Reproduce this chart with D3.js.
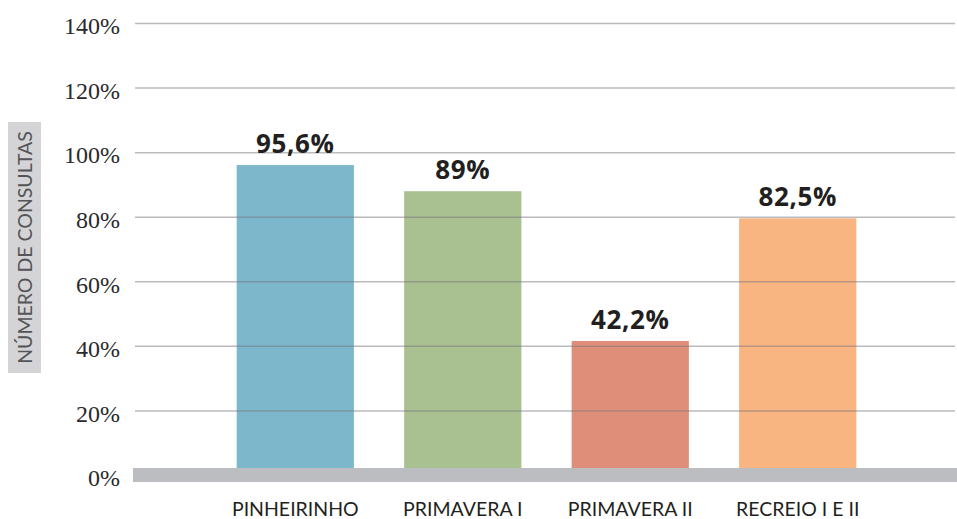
<!DOCTYPE html>
<html><head><meta charset="utf-8">
<script src="https://cdn.jsdelivr.net/npm/d3@7"></script>
<style>html,body{margin:0;padding:0;background:#fff;}svg{display:block;}</style>
</head><body>
<svg id="chart" width="957" height="519"></svg>
<script>
const categories = ["PINHEIRINHO", "PRIMAVERA I", "PRIMAVERA II", "RECREIO I E II"];
const barValues = [96.0, 87.9, 41.5, 79.5];
const valueLabels = ["95,6%", "89%", "42,2%", "82,5%"];
const colors = ["#7db7cc", "#a9c190", "#df8f79", "#f8b582"];
const yTicks = [0, 20, 40, 60, 80, 100, 120, 140];
const yTitle = "NÚMERO DE CONSULTAS";

const svg = d3.select("#chart");
const y = d3.scaleLinear().domain([0, 140]).range([475, 23]);
const x = d3.scaleBand().domain(categories).range([135, 958]).paddingInner(0.3).paddingOuter(0.607);

// bars
svg.append("g").selectAll("rect").data(categories).join("rect")
  .attr("x", d => x(d)).attr("width", x.bandwidth())
  .attr("y", (d, i) => y(barValues[i])).attr("height", (d, i) => y(0) - y(barValues[i]))
  .attr("fill", (d, i) => colors[i]);

// gridlines
const grid = svg.append("g").attr("transform", "translate(135,0)")
  .call(d3.axisLeft(y).tickValues(yTicks.filter(t => t > 0)).tickSize(-820).tickFormat(""));
grid.select(".domain").remove();
grid.selectAll(".tick line").attr("stroke", "#77767b").attr("stroke-opacity", 0.5).attr("stroke-width", 1.5);

// baseline band
svg.append("rect").attr("x", 133).attr("y", y(0) - 7).attr("width", 824).attr("height", 14).attr("fill", "#bcbdc0");

// y tick labels
const yAxis = svg.append("g").attr("transform", "translate(120,0)")
  .call(d3.axisLeft(y).tickValues(yTicks).tickSize(0).tickPadding(0).tickFormat(d => d + "%"));
yAxis.select(".domain").remove();
yAxis.selectAll("text").attr("font-family", "'Liberation Serif', 'DejaVu Serif', serif")
  .attr("font-size", 24).attr("fill", "#2a2a2c").attr("dy", "0.45em");

// y title with box
const tg = svg.append("g");
tg.append("rect").attr("x", 8).attr("y", 122).attr("width", 33).attr("height", 251).attr("fill", "#d4d4d6");
tg.append("text").attr("transform", "translate(31.5,247.5) rotate(-90)")
  .attr("text-anchor", "middle").attr("font-family", "Lato, 'Open Sans', sans-serif")
  .attr("font-size", 19.5).attr("fill", "#555557").text(yTitle);

// value labels
svg.append("g").selectAll("text").data(categories).join("text")
  .attr("x", d => x(d) + x.bandwidth() / 2).attr("y", (d, i) => y(barValues[i]) - 12)
  .attr("text-anchor", "middle").attr("font-family", "'Open Sans', sans-serif")
  .attr("font-weight", "bold").attr("font-size", 26).attr("letter-spacing", 0.6).attr("fill", "#231f20")
  .text((d, i) => valueLabels[i]);

// category labels
const xAxis = svg.append("g").attr("transform", "translate(0,516)")
  .call(d3.axisBottom(x).tickSize(0).tickPadding(0));
xAxis.select(".domain").remove();
xAxis.selectAll("text").attr("font-family", "Lato, 'Open Sans', sans-serif")
  .attr("font-size", 19.5).attr("fill", "#231f20").attr("dy", 0);
</script>
</body></html>
